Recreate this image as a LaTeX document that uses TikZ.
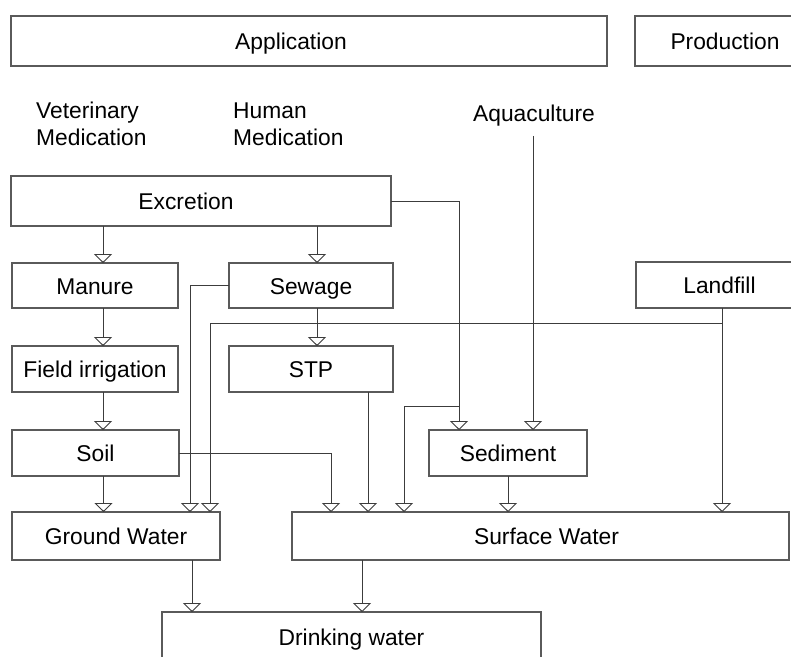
\documentclass[tikz,border=0pt]{standalone}
\usepackage{fontspec}
\setmainfont{Liberation Sans}
\usepackage{tikz}
\usetikzlibrary{
  arrows.meta,
  positioning
}
\definecolor{linecol}{HTML}{3C3C3C}
\definecolor{boxcol}{HTML}{5A5A5A}
\newcommand{\boxfont}{\fontsize{22.8}{27}\selectfont}

\begin{document}
\begin{tikzpicture}[
  x=1pt, y=-1pt,
  boxtxt/.style={text height=19pt, text depth=2pt},
  box/.style={draw=boxcol, line width=1.1pt, inner sep=0pt, outer sep=0pt, font=\boxfont, boxtxt, anchor=north west},
  lbl/.style={font=\boxfont, inner sep=0pt, align=left},
  flow/.style={draw=linecol, line width=0.9pt, -{Triangle[open, width=18pt, length=9pt]}},
]
  \useasboundingbox (0,0) rectangle (791,656);

  % Top row
  \node[box, minimum width=596pt, minimum height=50pt,
    label={[lbl, boxtxt, xshift=-18pt]center:Application}] (app) at (11,16) {};
  \node[box, minimum width=180pt, minimum height=50pt] (prod) at (635,16) {Production};

  % Sources
  \node[lbl, anchor=west] (vet) at (36,124) {Veterinary\\Medication};
  \node[lbl, anchor=west] (hum) at (233,124) {Human\\Medication};
  \node[lbl] (aqua) at (534,116) {Aquaculture};

  % Pathways
  \node[box, minimum width=380pt, minimum height=50pt,
    label={[lbl, boxtxt, xshift=-15pt]center:Excretion}] (excr) at (11,176) {};
  \node[box, minimum width=166pt, minimum height=45pt] (manure) at (12,263) {Manure};
  \node[box, minimum width=164pt, minimum height=45pt, right=51pt of manure.north east, anchor=north west] (sewage) {Sewage};
  \node[box, minimum width=167pt, minimum height=46pt] (landfill) at (636,262) {Landfill};
  \node[box, minimum width=166pt, minimum height=46pt, below=38pt of manure.south west, anchor=north west] (field) {Field irrigation};
  \node[box, minimum width=164pt, minimum height=46pt, below=38pt of sewage.south west, anchor=north west] (stp) {STP};
  \node[box, minimum width=167pt, minimum height=46pt, below=38pt of field.south west, anchor=north west] (soil) {Soil};
  \node[box, minimum width=158pt, minimum height=46pt] (sed) at (429,430) {Sediment};

  % Water
  \node[box, minimum width=208pt, minimum height=48pt, below=36pt of soil.south west, anchor=north west] (gw) {Ground Water};
  \node[box, minimum width=497pt, minimum height=48pt, right=72pt of gw.north east, anchor=north west,
    label={[lbl, boxtxt, xshift=6pt]center:Surface Water}] (sw) {};
  \node[box, minimum width=379pt, minimum height=50pt] (dw) at (162,612) {Drinking water};

  % Branch points
  \coordinate (lfbranch) at ([xshift=2.5pt,yshift=-15pt]landfill.south);
  \coordinate (exbranch) at ([xshift=-49pt,yshift=24pt]sed.north);

  % Flows
  \draw[flow] ([xshift=8pt]manure.north |- excr.south) -- ([xshift=8pt]manure.north);
  \draw[flow] ([xshift=6pt]sewage.north |- excr.south) -- ([xshift=6pt]sewage.north);
  \draw[flow] ([xshift=8pt]manure.south) -- ([xshift=8pt]field.north);
  \draw[flow] ([xshift=8pt]field.south) -- ([xshift=8pt]field.south |- soil.north);
  \draw[flow] ([xshift=8pt]soil.south) -- ([xshift=8pt]soil.south |- gw.north);
  \draw[flow] (sewage.west) -| ([xshift=74pt]gw.north);
  \draw[flow] ([xshift=6pt]sewage.south) -- ([xshift=6pt]stp.north);
  \draw[flow] ([xshift=2.5pt]landfill.south) -- ([xshift=2.5pt]landfill.south |- sw.north);
  \draw[flow] (lfbranch) -| ([xshift=94pt]gw.north);
  \draw[flow] ([xshift=57pt]stp.south) -- ([xshift=57pt]stp.south |- sw.north);
  \draw[flow] (soil.east) -| ([xshift=-209.5pt]sw.north);
  \draw[flow] (excr.east) -| ([xshift=-49pt]sed.north);
  \draw[flow] (exbranch) -| ([xshift=-136.5pt]sw.north);
  \draw[flow] ([xshift=25pt,yshift=-9pt]sed.north |- aqua.south) -- ([xshift=25pt]sed.north);
  \draw[flow] (sed.south) -- (sed.south |- sw.north);
  \draw[flow] ([xshift=76pt]gw.south) -- ([xshift=76pt]gw.south |- dw.north);
  \draw[flow] ([xshift=-178.5pt]sw.south) -- ([xshift=-178.5pt]sw.south |- dw.north);
\end{tikzpicture}
\end{document}
